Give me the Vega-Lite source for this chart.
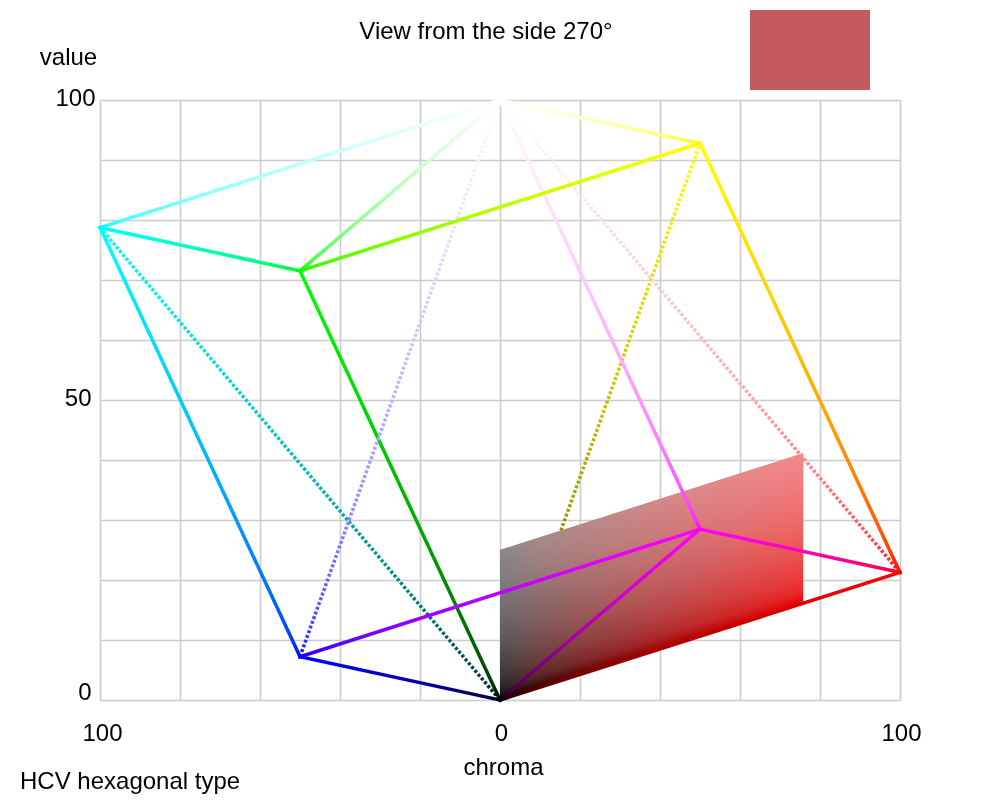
{"$schema":"https://vega.github.io/schema/vega-lite/v6.json","width":800,"height":600,"autosize":"none","padding":{"left":100,"top":100,"right":100,"bottom":100},"background":"white","config":{"view":{"stroke":null},"line":{"strokeWidth":3.5,"strokeCap":"square"}},"encoding":{"x":{"field":"chroma","type":"quantitative","scale":{"domain":[-100,100],"nice":false,"zero":false},"axis":{"values":[-100,-80,-60,-40,-20,0,20,40,60,80,100],"labelExpr":"abs(datum.value)==100||datum.value==0?''+abs(datum.value):''","labelFont":"Liberation Sans","labelFontSize":24,"labelColor":"#000","labelPadding":21,"labelOffset":{"expr":"datum.value==-100?2:1"},"labelOverlap":false,"labelFlush":false,"labelBound":false,"domain":false,"ticks":false,"grid":true,"gridColor":"#cccccc","gridWidth":1.6,"title":"chroma","titleFont":"Liberation Sans","titleFontSize":24,"titleFontWeight":"normal","titleColor":"#000","titleX":403,"titleY":67,"titleBaseline":"middle"}},"y":{"field":"value","type":"quantitative","scale":{"domain":[0,100],"nice":false,"zero":false},"axis":{"values":[0,10,20,30,40,50,60,70,80,90,100],"labelExpr":"datum.value==0||datum.value==50||datum.value==100?''+datum.value:''","labelFont":"Liberation Sans","labelFontSize":24,"labelColor":"#000","labelPadding":{"expr":"datum.value==100?5:9"},"labelOffset":{"expr":"datum.value==0?-8:-2"},"labelOverlap":false,"labelBound":false,"labelFlush":false,"domain":false,"ticks":false,"grid":true,"gridColor":"#cccccc","gridWidth":1.6,"title":"value","titleFont":"Liberation Sans","titleFontSize":24,"titleFontWeight":"normal","titleColor":"#000","titleAngle":0,"titleAlign":"center","titleBaseline":"middle","titleX":-32,"titleY":-43}}},"layer":[
{"data":{"values":[{"chroma":62.5,"chroma2":92.5,"value":115,"value2":101.67}]},"mark":{"type":"rect","fill":"#c25a5e","clip":false},"encoding":{"x2":{"field":"chroma2"},"y2":{"field":"value2"}}},
{"data":{"values":[{"chroma":-120,"value":-13.67,"label":"HCV hexagonal type"}]},"mark":{"type":"text","align":"left","baseline":"middle","font":"Liberation Sans","fontSize":24,"color":"#000"},"encoding":{"text":{"field":"label"}}},
{"data":{"values":[{"chroma":-3.5,"value":111.3,"label":"View from the side 270°"}]},"mark":{"type":"text","align":"center","baseline":"middle","font":"Liberation Sans","fontSize":24,"color":"#000"},"encoding":{"text":{"field":"label"}}},
{"data":{"values":[{"edge":"K-Y","chroma":0,"value":0},{"edge":"K-Y","chroma":50,"value":92.78}]},"mark":{"type":"line","strokeDash":[3,2],"strokeCap":"butt","stroke":{"gradient":"linear","x1":0,"y1":1,"x2":1,"y2":0,"stops":[{"offset":0,"color":"#000000"},{"offset":0.02,"color":"#272700"},{"offset":0.05,"color":"#3f3f00"},{"offset":0.1,"color":"#595900"},{"offset":0.2,"color":"#7c7c00"},{"offset":0.35,"color":"#a0a000"},{"offset":0.5,"color":"#bcbc00"},{"offset":0.7,"color":"#dada00"},{"offset":1,"color":"#ffff00"}]}}},
{"data":{"values":[{"chroma":0,"low":0,"high":25},{"chroma":75.8,"low":16.12,"high":41.12}]},"mark":{"type":"area","fill":{"gradient":"linear","x1":0,"y1":0,"x2":1,"y2":0,"stops":[{"offset":0,"color":"#000000"},{"offset":0.066,"color":"#220000"},{"offset":0.132,"color":"#3c0000"},{"offset":0.264,"color":"#620000"},{"offset":0.396,"color":"#820000"},{"offset":0.528,"color":"#9e0000"},{"offset":0.66,"color":"#b60000"},{"offset":0.792,"color":"#cc0000"},{"offset":1,"color":"#e80000"}]}},"encoding":{"y":{"field":"low","type":"quantitative"},"y2":{"field":"high"}}},
{"data":{"values":[{"chroma":0,"low":0,"high":25},{"chroma":75.8,"low":16.12,"high":41.12}]},"mark":{"type":"area","blend":"screen","fill":{"gradient":"linear","x1":0,"y1":1,"x2":-0.2065,"y2":0.4728,"stops":[{"offset":0,"color":"#000000"},{"offset":0.08,"color":"#272727"},{"offset":0.2,"color":"#3f3f3f"},{"offset":0.4,"color":"#595959"},{"offset":0.6,"color":"#6d6d6d"},{"offset":0.8,"color":"#7c7c7c"},{"offset":1,"color":"#898989"}]}},"encoding":{"y":{"field":"low","type":"quantitative"},"y2":{"field":"high"}}},
{"data":{"values":[{"edge":"K-R","chroma":0,"value":0},{"edge":"K-R","chroma":100,"value":21.26}]},"mark":{"type":"line","stroke":{"gradient":"linear","x1":0,"y1":1,"x2":1,"y2":0,"stops":[{"offset":0,"color":"#000000"},{"offset":0.02,"color":"#270000"},{"offset":0.05,"color":"#3f0000"},{"offset":0.1,"color":"#590000"},{"offset":0.2,"color":"#7c0000"},{"offset":0.35,"color":"#a00000"},{"offset":0.5,"color":"#bc0000"},{"offset":0.7,"color":"#da0000"},{"offset":1,"color":"#ff0000"}]}}},
{"data":{"values":[{"edge":"K-G","chroma":0,"value":0},{"edge":"K-G","chroma":-50,"value":71.52}]},"mark":{"type":"line","stroke":{"gradient":"linear","x1":1,"y1":1,"x2":0,"y2":0,"stops":[{"offset":0,"color":"#000000"},{"offset":0.02,"color":"#002700"},{"offset":0.05,"color":"#003f00"},{"offset":0.1,"color":"#005900"},{"offset":0.2,"color":"#007c00"},{"offset":0.35,"color":"#00a000"},{"offset":0.5,"color":"#00bc00"},{"offset":0.7,"color":"#00da00"},{"offset":1,"color":"#00ff00"}]}}},
{"data":{"values":[{"edge":"K-C","chroma":0,"value":0},{"edge":"K-C","chroma":-100,"value":78.74}]},"mark":{"type":"line","strokeDash":[3,2],"strokeCap":"butt","stroke":{"gradient":"linear","x1":1,"y1":1,"x2":0,"y2":0,"stops":[{"offset":0,"color":"#000000"},{"offset":0.02,"color":"#002727"},{"offset":0.05,"color":"#003f3f"},{"offset":0.1,"color":"#005959"},{"offset":0.2,"color":"#007c7c"},{"offset":0.35,"color":"#00a0a0"},{"offset":0.5,"color":"#00bcbc"},{"offset":0.7,"color":"#00dada"},{"offset":1,"color":"#00ffff"}]}}},
{"data":{"values":[{"edge":"K-B","chroma":0,"value":0},{"edge":"K-B","chroma":-50,"value":7.22}]},"mark":{"type":"line","stroke":{"gradient":"linear","x1":1,"y1":1,"x2":0,"y2":0,"stops":[{"offset":0,"color":"#000000"},{"offset":0.02,"color":"#000027"},{"offset":0.05,"color":"#00003f"},{"offset":0.1,"color":"#000059"},{"offset":0.2,"color":"#00007c"},{"offset":0.35,"color":"#0000a0"},{"offset":0.5,"color":"#0000bc"},{"offset":0.7,"color":"#0000da"},{"offset":1,"color":"#0000ff"}]}}},
{"data":{"values":[{"edge":"K-M","chroma":0,"value":0},{"edge":"K-M","chroma":50,"value":28.48}]},"mark":{"type":"line","stroke":{"gradient":"linear","x1":0,"y1":1,"x2":1,"y2":0,"stops":[{"offset":0,"color":"#000000"},{"offset":0.02,"color":"#270027"},{"offset":0.05,"color":"#3f003f"},{"offset":0.1,"color":"#590059"},{"offset":0.2,"color":"#7c007c"},{"offset":0.35,"color":"#a000a0"},{"offset":0.5,"color":"#bc00bc"},{"offset":0.7,"color":"#da00da"},{"offset":1,"color":"#ff00ff"}]}}},
{"data":{"values":[{"edge":"R-W","chroma":100,"value":21.26},{"edge":"R-W","chroma":0,"value":100}]},"mark":{"type":"line","strokeDash":[3,2],"strokeCap":"butt","stroke":{"gradient":"linear","x1":1,"y1":1,"x2":0,"y2":0,"stops":[{"offset":0,"color":"#ff0000"},{"offset":0.02,"color":"#ff2727"},{"offset":0.05,"color":"#ff3f3f"},{"offset":0.1,"color":"#ff5959"},{"offset":0.2,"color":"#ff7c7c"},{"offset":0.35,"color":"#ffa0a0"},{"offset":0.5,"color":"#ffbcbc"},{"offset":0.7,"color":"#ffdada"},{"offset":1,"color":"#ffffff"}]}}},
{"data":{"values":[{"edge":"Y-W","chroma":50,"value":92.78},{"edge":"Y-W","chroma":0,"value":100}]},"mark":{"type":"line","stroke":{"gradient":"linear","x1":1,"y1":1,"x2":0,"y2":0,"stops":[{"offset":0,"color":"#ffff00"},{"offset":0.02,"color":"#ffff27"},{"offset":0.05,"color":"#ffff3f"},{"offset":0.1,"color":"#ffff59"},{"offset":0.2,"color":"#ffff7c"},{"offset":0.35,"color":"#ffffa0"},{"offset":0.5,"color":"#ffffbc"},{"offset":0.7,"color":"#ffffda"},{"offset":1,"color":"#ffffff"}]}}},
{"data":{"values":[{"edge":"G-W","chroma":-50,"value":71.52},{"edge":"G-W","chroma":0,"value":100}]},"mark":{"type":"line","stroke":{"gradient":"linear","x1":0,"y1":1,"x2":1,"y2":0,"stops":[{"offset":0,"color":"#00ff00"},{"offset":0.02,"color":"#27ff27"},{"offset":0.05,"color":"#3fff3f"},{"offset":0.1,"color":"#59ff59"},{"offset":0.2,"color":"#7cff7c"},{"offset":0.35,"color":"#a0ffa0"},{"offset":0.5,"color":"#bcffbc"},{"offset":0.7,"color":"#daffda"},{"offset":1,"color":"#ffffff"}]}}},
{"data":{"values":[{"edge":"C-W","chroma":-100,"value":78.74},{"edge":"C-W","chroma":0,"value":100}]},"mark":{"type":"line","stroke":{"gradient":"linear","x1":0,"y1":1,"x2":1,"y2":0,"stops":[{"offset":0,"color":"#00ffff"},{"offset":0.02,"color":"#27ffff"},{"offset":0.05,"color":"#3fffff"},{"offset":0.1,"color":"#59ffff"},{"offset":0.2,"color":"#7cffff"},{"offset":0.35,"color":"#a0ffff"},{"offset":0.5,"color":"#bcffff"},{"offset":0.7,"color":"#daffff"},{"offset":1,"color":"#ffffff"}]}}},
{"data":{"values":[{"edge":"B-W","chroma":-50,"value":7.22},{"edge":"B-W","chroma":0,"value":100}]},"mark":{"type":"line","strokeDash":[3,2],"strokeCap":"butt","stroke":{"gradient":"linear","x1":0,"y1":1,"x2":1,"y2":0,"stops":[{"offset":0,"color":"#0000ff"},{"offset":0.02,"color":"#2727ff"},{"offset":0.05,"color":"#3f3fff"},{"offset":0.1,"color":"#5959ff"},{"offset":0.2,"color":"#7c7cff"},{"offset":0.35,"color":"#a0a0ff"},{"offset":0.5,"color":"#bcbcff"},{"offset":0.7,"color":"#dadaff"},{"offset":1,"color":"#ffffff"}]}}},
{"data":{"values":[{"edge":"M-W","chroma":50,"value":28.48},{"edge":"M-W","chroma":0,"value":100}]},"mark":{"type":"line","stroke":{"gradient":"linear","x1":1,"y1":1,"x2":0,"y2":0,"stops":[{"offset":0,"color":"#ff00ff"},{"offset":0.02,"color":"#ff27ff"},{"offset":0.05,"color":"#ff3fff"},{"offset":0.1,"color":"#ff59ff"},{"offset":0.2,"color":"#ff7cff"},{"offset":0.35,"color":"#ffa0ff"},{"offset":0.5,"color":"#ffbcff"},{"offset":0.7,"color":"#ffdaff"},{"offset":1,"color":"#ffffff"}]}}},
{"data":{"values":[{"edge":"R-Y","chroma":100,"value":21.26},{"edge":"R-Y","chroma":50,"value":92.78}]},"mark":{"type":"line","stroke":{"gradient":"linear","x1":1,"y1":1,"x2":0,"y2":0,"stops":[{"offset":0,"color":"#ff0000"},{"offset":0.02,"color":"#ff2700"},{"offset":0.05,"color":"#ff3f00"},{"offset":0.1,"color":"#ff5900"},{"offset":0.2,"color":"#ff7c00"},{"offset":0.35,"color":"#ffa000"},{"offset":0.5,"color":"#ffbc00"},{"offset":0.7,"color":"#ffda00"},{"offset":1,"color":"#ffff00"}]}}},
{"data":{"values":[{"edge":"G-Y","chroma":-50,"value":71.52},{"edge":"G-Y","chroma":50,"value":92.78}]},"mark":{"type":"line","stroke":{"gradient":"linear","x1":0,"y1":1,"x2":1,"y2":0,"stops":[{"offset":0,"color":"#00ff00"},{"offset":0.02,"color":"#27ff00"},{"offset":0.05,"color":"#3fff00"},{"offset":0.1,"color":"#59ff00"},{"offset":0.2,"color":"#7cff00"},{"offset":0.35,"color":"#a0ff00"},{"offset":0.5,"color":"#bcff00"},{"offset":0.7,"color":"#daff00"},{"offset":1,"color":"#ffff00"}]}}},
{"data":{"values":[{"edge":"G-C","chroma":-50,"value":71.52},{"edge":"G-C","chroma":-100,"value":78.74}]},"mark":{"type":"line","stroke":{"gradient":"linear","x1":1,"y1":1,"x2":0,"y2":0,"stops":[{"offset":0,"color":"#00ff00"},{"offset":0.02,"color":"#00ff27"},{"offset":0.05,"color":"#00ff3f"},{"offset":0.1,"color":"#00ff59"},{"offset":0.2,"color":"#00ff7c"},{"offset":0.35,"color":"#00ffa0"},{"offset":0.5,"color":"#00ffbc"},{"offset":0.7,"color":"#00ffda"},{"offset":1,"color":"#00ffff"}]}}},
{"data":{"values":[{"edge":"B-C","chroma":-50,"value":7.22},{"edge":"B-C","chroma":-100,"value":78.74}]},"mark":{"type":"line","stroke":{"gradient":"linear","x1":1,"y1":1,"x2":0,"y2":0,"stops":[{"offset":0,"color":"#0000ff"},{"offset":0.02,"color":"#0027ff"},{"offset":0.05,"color":"#003fff"},{"offset":0.1,"color":"#0059ff"},{"offset":0.2,"color":"#007cff"},{"offset":0.35,"color":"#00a0ff"},{"offset":0.5,"color":"#00bcff"},{"offset":0.7,"color":"#00daff"},{"offset":1,"color":"#00ffff"}]}}},
{"data":{"values":[{"edge":"B-M","chroma":-50,"value":7.22},{"edge":"B-M","chroma":50,"value":28.48}]},"mark":{"type":"line","stroke":{"gradient":"linear","x1":0,"y1":1,"x2":1,"y2":0,"stops":[{"offset":0,"color":"#0000ff"},{"offset":0.02,"color":"#2700ff"},{"offset":0.05,"color":"#3f00ff"},{"offset":0.1,"color":"#5900ff"},{"offset":0.2,"color":"#7c00ff"},{"offset":0.35,"color":"#a000ff"},{"offset":0.5,"color":"#bc00ff"},{"offset":0.7,"color":"#da00ff"},{"offset":1,"color":"#ff00ff"}]}}},
{"data":{"values":[{"edge":"R-M","chroma":100,"value":21.26},{"edge":"R-M","chroma":50,"value":28.48}]},"mark":{"type":"line","stroke":{"gradient":"linear","x1":1,"y1":1,"x2":0,"y2":0,"stops":[{"offset":0,"color":"#ff0000"},{"offset":0.02,"color":"#ff0027"},{"offset":0.05,"color":"#ff003f"},{"offset":0.1,"color":"#ff0059"},{"offset":0.2,"color":"#ff007c"},{"offset":0.35,"color":"#ff00a0"},{"offset":0.5,"color":"#ff00bc"},{"offset":0.7,"color":"#ff00da"},{"offset":1,"color":"#ff00ff"}]}}}
]}
